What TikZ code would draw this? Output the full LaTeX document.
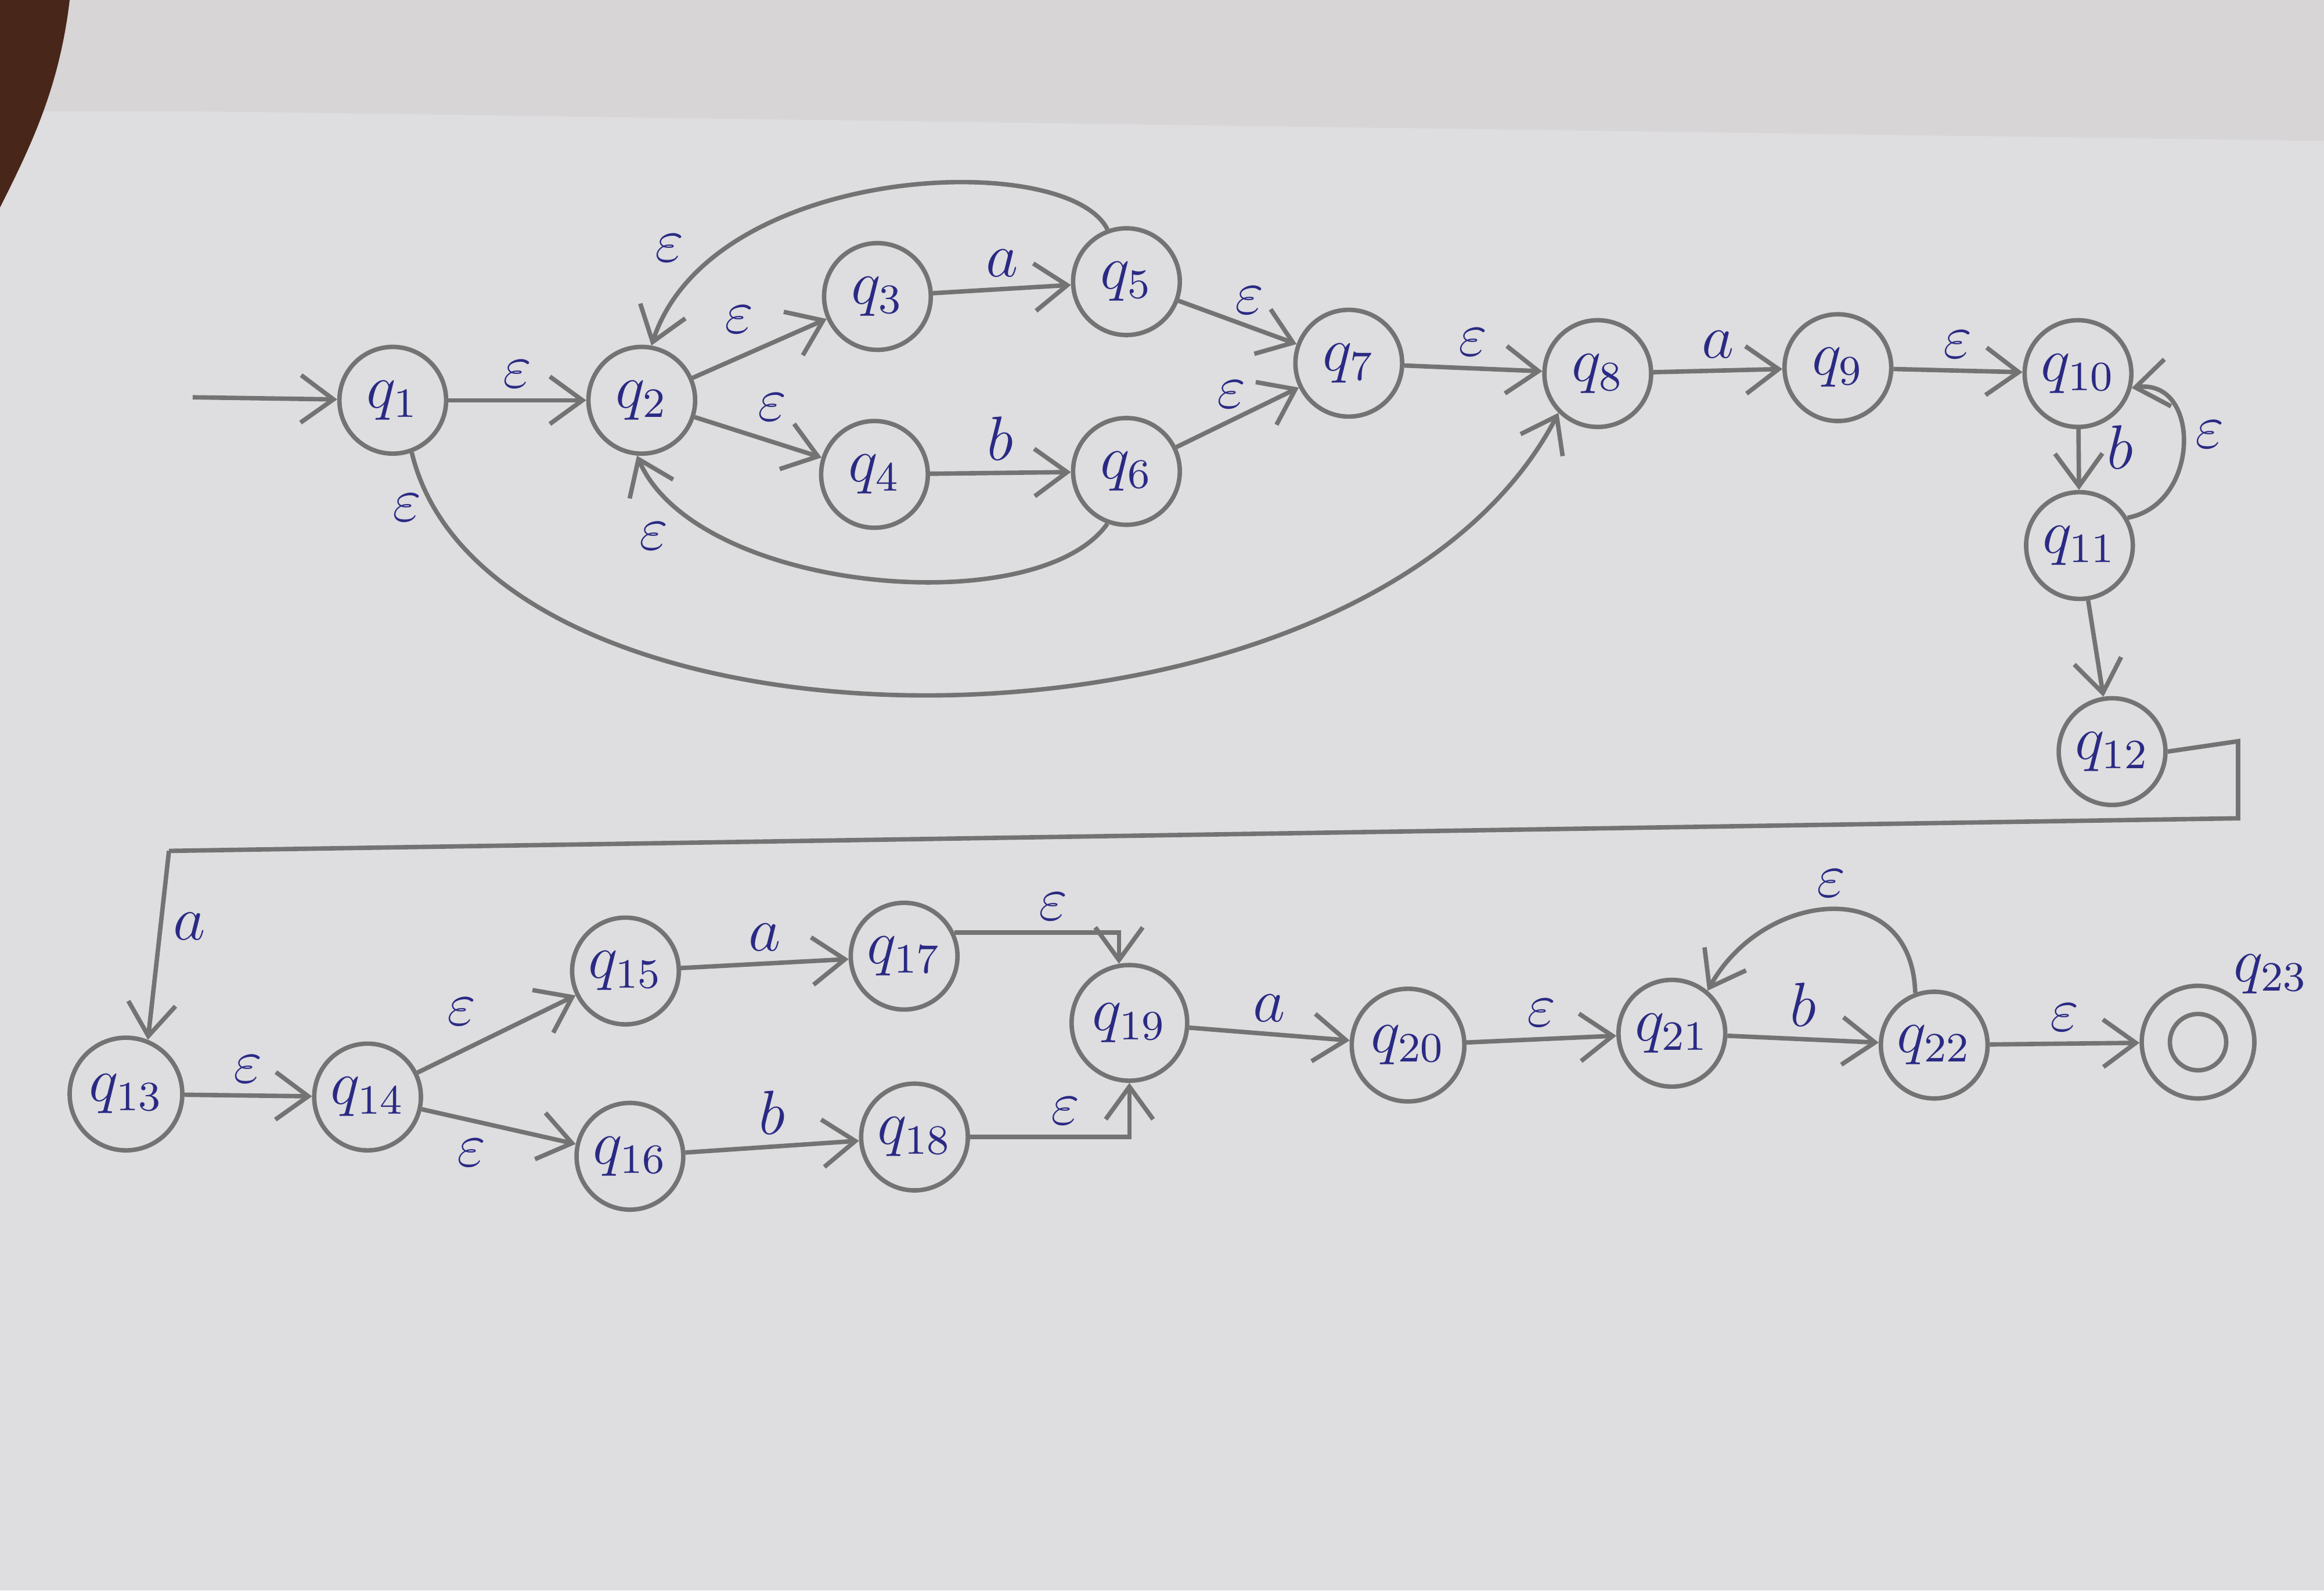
\documentclass[tikz,border=0pt]{standalone}
\usetikzlibrary{arrows.meta}
\definecolor{paper}{RGB}{222,221,223}
\definecolor{shadow}{RGB}{215,213,214}
\definecolor{desk}{RGB}{72,38,26}
\definecolor{pencil}{RGB}{115,115,115}
\definecolor{ink}{RGB}{42,42,132}
\tikzset{
  state/.style={circle, draw=pencil, line width=0.85pt, minimum size=0.72cm, inner sep=0pt, text=ink, font=\large},
  trans/.style={draw=pencil, line width=0.85pt, -{Straight Barb[length=2.2mm, width=3.2mm]}},
  lbl/.style={text=ink, font=\large, inner sep=2pt},
}
\begin{document}
\begin{tikzpicture}
        % Paper
        \fill[paper] (0,0) rectangle (15.68,-10.73);
        \fill[shadow] (0,0) -- (15.68,0) -- (15.68,-0.95) -- (1.30,-0.75) -- (0,-0.75) -- cycle;
        \fill[desk] (0,0) -- (0.47,0) .. controls (0.40,-0.60) and (0.20,-1.00) .. (0,-1.40) -- cycle;
        \useasboundingbox (0,0) rectangle (15.68,-10.73);

        % Row 1: q1 ... q10
        \node[state] (q1) at (2.65,-2.70) {$q_{1}$};
        \node[state] (q2) at (4.33,-2.70) {$q_{2}$};
        \node[state] (q3) at (5.92,-2.00) {$q_{3}$};
        \node[state] (q4) at (5.90,-3.20) {$q_{4}$};
        \node[state] (q5) at (7.60,-1.90) {$q_{5}$};
        \node[state] (q6) at (7.60,-3.18) {$q_{6}$};
        \node[state] (q7) at (9.10,-2.45) {$q_{7}$};
        \node[state] (q8) at (10.78,-2.52) {$q_{8}$};
        \node[state] (q9) at (12.40,-2.48) {$q_{9}$};
        \node[state] (q10) at (14.02,-2.52) {$q_{10}$};

        % Column down: q11, q12
        \node[state] (q11) at (14.03,-3.68) {$q_{11}$};
        \node[state] (q12) at (14.25,-5.07) {$q_{12}$};

        % Row 2: q13 ... q23
        \node[state, minimum size=0.76cm] (q13) at (0.85,-7.38) {$q_{13}$};
        \node[state] (q14) at (2.48,-7.40) {$q_{14}$};
        \node[state] (q15) at (4.22,-6.55) {$q_{15}$};
        \node[state] (q16) at (4.25,-7.80) {$q_{16}$};
        \node[state] (q17) at (6.10,-6.45) {$q_{17}$};
        \node[state] (q18) at (6.17,-7.67) {$q_{18}$};
        \node[state, minimum size=0.78cm] (q19) at (7.62,-6.90) {$q_{19}$};
        \node[state, minimum size=0.76cm] (q20) at (9.50,-7.05) {$q_{20}$};
        \node[state] (q21) at (11.28,-6.97) {$q_{21}$};
        \node[state] (q22) at (13.05,-7.05) {$q_{22}$};
        \node[state, minimum size=0.76cm] (q23) at (14.83,-7.03) {};
        \draw[pencil, line width=0.85pt] (q23.center) circle (0.19);
        \node[lbl] (q23lbl) at (15.32,-6.57) {$q_{23}$};

        % Start
        \coordinate (start) at (1.30,-2.68);
        \draw[trans] (start) -- (q1);

        % Transitions, row 1
        \draw[trans] (q1) -- node[lbl, above] {$\varepsilon$} (q2);
        \draw[trans] (q2) -- node[lbl, above left, pos=0.55] {$\varepsilon$} (q3);
        \draw[trans] (q2) -- node[lbl, above right, pos=0.4] {$\varepsilon$} (q4);
        \draw[trans] (q3) -- node[lbl, above] {$a$} (q5);
        \draw[trans] (q4) -- node[lbl, above] {$b$} (q6);
        \draw[trans] (q5) -- node[lbl, above, pos=0.6] {$\varepsilon$} (q7);
        \draw[trans] (q6) -- node[lbl, above, pos=0.45] {$\varepsilon$} (q7);
        \draw[trans] (q5.110) .. controls (7.20,-1.00) and (4.80,-1.10) .. node[lbl, above left, pos=0.85] {$\varepsilon$} (q2.80);
        \draw[trans] (q6.250) .. controls (7.00,-4.20) and (4.70,-4.00) .. node[lbl, below left, pos=0.85] {$\varepsilon$} (q2.265);
        \draw[trans] (q1.290) .. controls (3.30,-5.25) and (9.20,-5.30) .. node[lbl, left, pos=0.06] {$\varepsilon$} (q8.225);
        \draw[trans] (q7) -- node[lbl, above] {$\varepsilon$} (q8);
        \draw[trans] (q8) -- node[lbl, above] {$a$} (q9);
        \draw[trans] (q9) -- node[lbl, above] {$\varepsilon$} (q10);
        \draw[trans] (q10) -- node[lbl, right=3pt, pos=0.3] {$b$} (q11);
        \draw[trans] (q11.30) .. controls (14.85,-3.40) and (14.85,-2.55) .. node[lbl, right, pos=0.55] {$\varepsilon$} (q10.-15);
        \draw[trans] (q11) -- (q12);

        % q12 back round to q13
        \coordinate (r1) at (15.10,-5.00);
        \coordinate (r2) at (15.10,-5.52);
        \coordinate (r3) at (1.14,-5.74);
        \draw[pencil, line width=0.85pt] (q12.east) -- (r1) -- (r2) -- (r3);
        \draw[trans] (r3) -- node[lbl, right, pos=0.4] {$a$} (q13.68);

        % Transitions, row 2
        \draw[trans] (q13) -- node[lbl, above] {$\varepsilon$} (q14);
        \draw[trans] (q14) -- node[lbl, above left, pos=0.45] {$\varepsilon$} (q15);
        \draw[trans] (q14) -- node[lbl, below left, pos=0.5] {$\varepsilon$} (q16);
        \draw[trans] (q15) -- node[lbl, above] {$a$} (q17);
        \draw[trans] (q16) -- node[lbl, above] {$b$} (q18);
        \draw[trans] (q17.25) -| node[lbl, above, pos=0.3] {$\varepsilon$} (q19.100);
        \draw[trans] (q18.east) -| node[lbl, above, pos=0.3] {$\varepsilon$} (q19.south);
        \draw[trans] (q19) -- node[lbl, above] {$a$} (q20);
        \draw[trans] (q20) -- node[lbl, above] {$\varepsilon$} (q21);
        \draw[trans] (q21) -- node[lbl, above] {$b$} (q22);
        \draw[trans] (q22.110) .. controls (12.90,-5.90) and (11.90,-6.00) .. node[lbl, above, pos=0.5] {$\varepsilon$} (q21.50);
        \draw[trans] (q22) -- node[lbl, above] {$\varepsilon$} (q23);
    \end{tikzpicture}
\end{document}
